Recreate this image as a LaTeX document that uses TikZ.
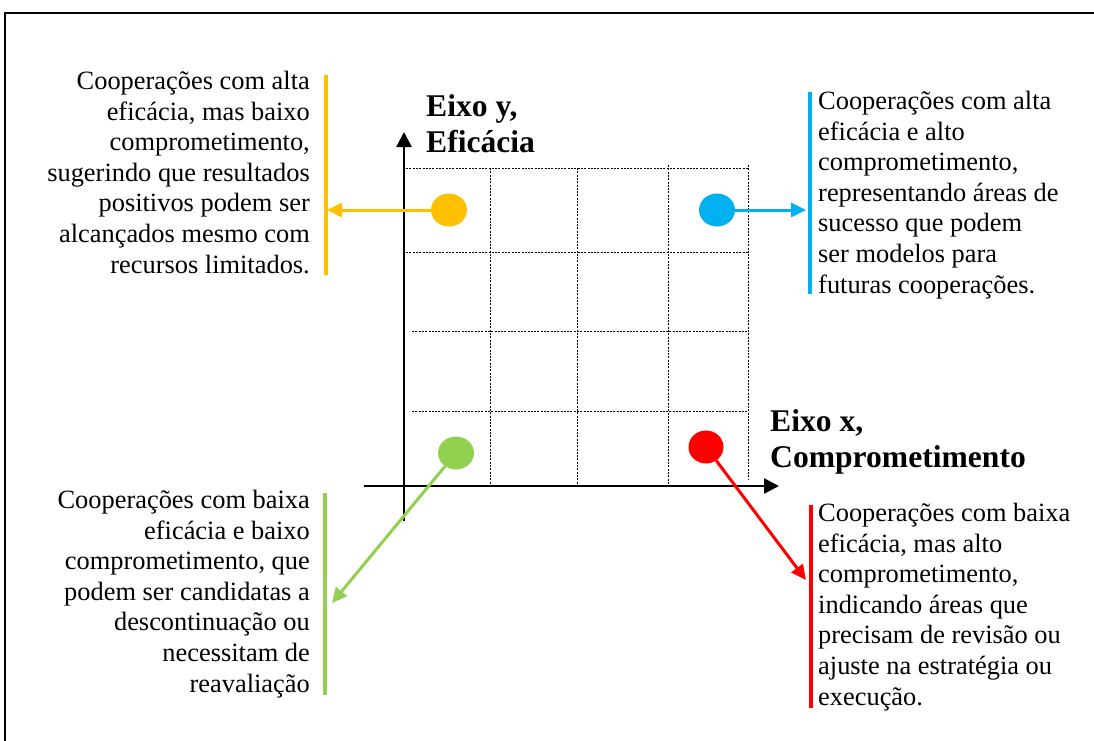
\documentclass[tikz,border=0pt]{standalone}
\usepackage{fontspec}
\setmainfont{Liberation Serif}
\usetikzlibrary{arrows.meta,shapes.geometric}
\definecolor{cyel}{HTML}{FFC000}
\definecolor{cblu}{HTML}{00B0F0}
\definecolor{cgrn}{HTML}{92D050}
\definecolor{cred}{HTML}{FF0000}
\begin{document}
\begin{tikzpicture}[x=1pt,y=-1pt,
  desc/.style={inner sep=0pt, font=\fontsize{26.4}{30.6}\selectfont},
  axislab/.style={inner sep=0pt, align=left, font=\fontsize{31.6}{36}\selectfont\bfseries},
  dot/.style={ellipse, minimum width=36pt, minimum height=33pt, inner sep=0pt, draw=none},
  gridline/.style={dash pattern=on 2pt off 1.3pt, line width=0.8pt},
  axisline/.style={line width=2.5pt, -{Triangle[length=15pt,width=15pt]}},
  conn/.style={line width=3pt, -{Triangle[length=15pt,width=14pt]}},
  bar/.style={line width=3.5pt}
]
\useasboundingbox (0,0) rectangle (1094,740);
\fill[white] (0,0) rectangle (1094,740);
% frame
\draw[line width=2.2pt] (5,760) -- (5,13) -- (1110,13);
% grid
\draw[gridline] (406,168) -- (748,168);
\draw[gridline] (406,252) -- (748,252);
\draw[gridline] (412,331) -- (748,331);
\draw[gridline] (412,411) -- (748,411);
\draw[gridline] (490,168) -- (490,486);
\draw[gridline] (577,168) -- (577,486);
\draw[gridline] (668,165) -- (668,486);
\draw[gridline] (748,165) -- (748,480);
% axes
\coordinate (yb) at (404,521);
\coordinate (yt) at (404,132);
\coordinate (xl) at (364,486);
\coordinate (xr) at (779,486);
\draw[axisline] (yb) -- (yt);
\draw[axisline] (xl) -- (xr);
\node[axislab, anchor=base west] (ylab) at (426,152) {Eixo y,\\Eficácia};
\node[axislab, anchor=base west] (xlab) at (770,467) {Eixo x,\\Comprometimento};
% dots
\node[dot, fill=cyel] (ydot) at (449,210) {};
\node[dot, fill=cblu] (bdot) at (717,210) {};
\node[dot, fill=cgrn] (gdot) at (456,453) {};
\node[dot, fill=cred, minimum width=35pt] (rdot) at (706,447) {};
% connector ends
\coordinate (ytip) at (327,210);
\coordinate (btip) at (806,210);
\coordinate (gtip) at (332,603);
\coordinate (rtip) at (806,580);
\draw[conn, cyel] (ydot) -- (ytip);
\draw[conn, cblu] (bdot) -- (btip);
\draw[conn, cgrn] (gdot) -- (gtip);
\draw[conn, cred] (rdot) -- (rtip);
% bars
\draw[bar, cyel] (326,75) -- (326,275);
\draw[bar, cblu] (810,92) -- (810,294);
\draw[bar, cgrn] (325,493) -- (325,695);
\draw[bar, cred] (811,505) -- (811,708);
% texts
\node[desc, align=right, anchor=base east] (ytext) at (310,273) {Cooperações com alta\\eficácia, mas baixo\\comprometimento,\\sugerindo que resultados\\positivos podem ser\\alcançados mesmo com\\recursos limitados.};
\node[desc, align=left, anchor=base west] (btext) at (818,293) {Cooperações com alta\\eficácia e alto\\comprometimento,\\representando áreas de\\sucesso que podem\\ser modelos para\\futuras cooperações.};
\node[desc, align=right, anchor=base east] (gtext) at (310,692) {Cooperações com baixa\\eficácia e baixo\\comprometimento, que\\podem ser candidatas a\\descontinuação ou\\necessitam de\\reavaliação};
\node[desc, align=left, anchor=base west] (rtext) at (818,705) {Cooperações com baixa\\eficácia, mas alto\\comprometimento,\\indicando áreas que\\precisam de revisão ou\\ajuste na estratégia ou\\execução.};
\end{tikzpicture}
\end{document}
